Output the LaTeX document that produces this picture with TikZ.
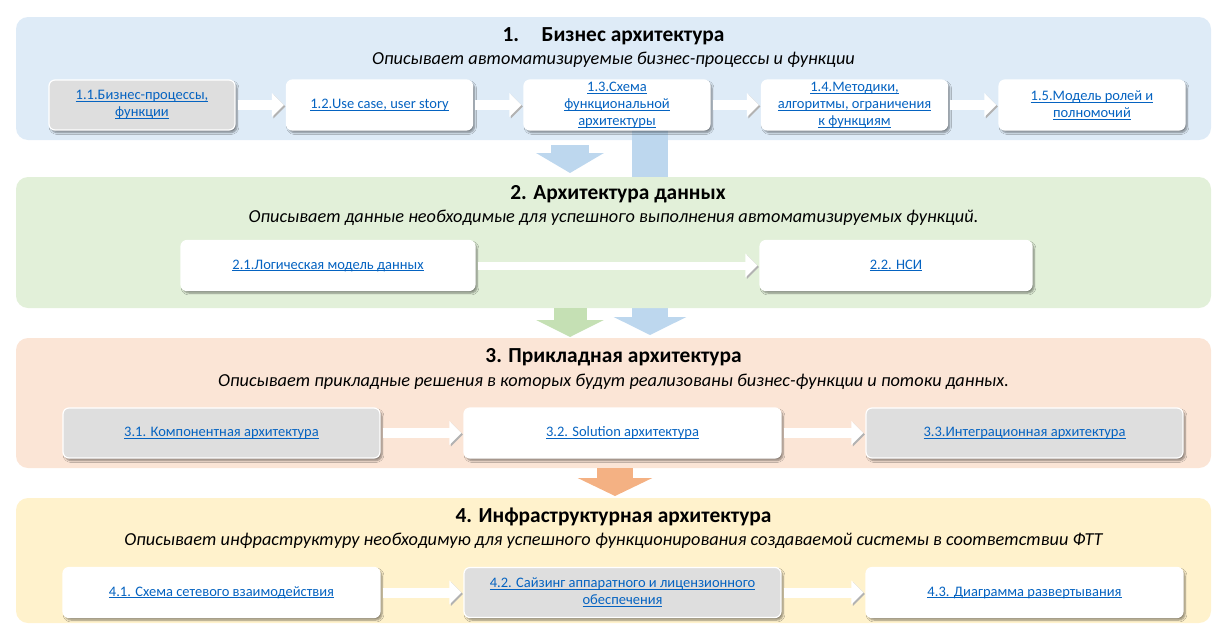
\documentclass[tikz,border=0pt]{standalone}
\usepackage{fontspec}
\setmainfont{Carlito}
\usepackage{xcolor}
\usetikzlibrary{arrows.meta,shadows.blur,positioning}

\definecolor{bandblue}{HTML}{DEEBF7}
\definecolor{bandgreen}{HTML}{E2F0D9}
\definecolor{bandpeach}{HTML}{FBE5D6}
\definecolor{bandyellow}{HTML}{FFF2CC}
\definecolor{arrblue}{HTML}{BDD7EE}
\definecolor{arrgreen}{HTML}{C5E0B4}
\definecolor{arrorange}{HTML}{F4B183}
\definecolor{cardgrey}{HTML}{DEDEDE}
\definecolor{linkblue}{HTML}{0563C1}

\newsavebox{\lnkbox}
\newcommand{\lnk}[1]{\sbox{\lnkbox}{#1}\rlap{\rule[-2pt]{\wd\lnkbox}{0.8pt}}\usebox{\lnkbox}}

\tikzset{
  band/.style={rounded corners=12pt},
  card/.style={draw=white, line width=1.2pt, fill=white, rounded corners=6pt,
    minimum height=50pt, align=center, text=linkblue, inner xsep=2pt, inner ysep=0pt,
    font=\fontsize{14.5}{17}\selectfont,
    blur shadow={shadow xshift=2pt, shadow yshift=-2.5pt, shadow blur steps=6, shadow opacity=45}},
  greycard/.style={card, fill=cardgrey},
  title/.style={font=\bfseries\fontsize{21.4}{25}\selectfont},
  subtitle/.style={font=\itshape\fontsize{18.3}{22}\selectfont},
  flow/.style={draw=white, line width=10pt, shorten <=2pt, shorten >=2pt,
    -{Triangle[length=12pt,width=23pt]},
    preaction={draw=black!30, transform canvas={xshift=1.5pt,yshift=-1.5pt}}},
  downflow/.style={draw=#1, -{Triangle[length=18pt,width=72pt]}}
}

\begin{document}
\begin{tikzpicture}[x=1pt,y=-1pt]
    \useasboundingbox (0,0) rectangle (1223,635);

    % level 1 background and the long arrow down to level 3
    \fill[band, bandblue] (16,17) rectangle (1211,140);
    \coordinate (longtop) at (650,128);
    \coordinate (longtip) at (650,335);
    \draw[downflow=arrblue, line width=36pt] (longtop) -- (longtip);

    % other level backgrounds
    \fill[band, bandgreen] (16,177) rectangle (1211,308);
    \fill[band, bandpeach] (16,338) rectangle (1211,468);
    \fill[band, bandyellow] (16,498) rectangle (1211,623);

    % arrows between levels
    \coordinate (d1top) at (570,145);
    \coordinate (d1tip) at (570,173);
    \draw[downflow=arrblue, line width=38pt, -{Triangle[length=20pt,width=67pt]}] (d1top) -- (d1tip);
    \coordinate (d2top) at (570,308);
    \coordinate (d2tip) at (570,337);
    \draw[downflow=arrgreen, line width=33pt, -{Triangle[length=17pt,width=67pt]}] (d2top) -- (d2tip);
    \coordinate (d3top) at (615,468);
    \coordinate (d3tip) at (615,496);
    \draw[downflow=arrorange, line width=36pt, -{Triangle[length=18pt,width=74pt]}] (d3top) -- (d3tip);

    % 1. business
    \node[title] (t1) at (613.5,36) {1.\hspace{1.05em}Бизнес архитектура};
    \node[subtitle] (s1) at (613.5,60) {Описывает автоматизируемые бизнес-процессы и функции};
    \node[greycard, minimum width=186pt] (b11) at (142,105) {\lnk{1.1.Бизнес-процессы,}\\\lnk{функции}};
    \node[card, minimum width=186pt] (b12) at (379.5,105) {\lnk{1.2.Use case, user story}};
    \node[card, minimum width=186pt] (b13) at (617,105) {\lnk{1.3.Схема}\\\lnk{функциональной}\\\lnk{архитектуры}};
    \node[card, minimum width=186pt] (b14) at (854.5,105) {\lnk{1.4.Методики,}\\\lnk{алгоритмы, ограничения}\\\lnk{к функциям}};
    \node[card, minimum width=186pt] (b15) at (1092,105) {\lnk{1.5.Модель ролей и}\\\lnk{полномочий}};
    \draw[flow] (b11) -- (b12);
    \draw[flow] (b12) -- (b13);
    \draw[flow] (b13) -- (b14);
    \draw[flow] (b14) -- (b15);

    % 2. data
    \node[title] (t2) at (618,194) {2. Архитектура данных};
    \node[subtitle] (s2) at (613.5,218) {Описывает данные необходимые для успешного выполнения автоматизируемых функций.};
    \node[card, minimum width=294pt] (b21) at (328,265.5) {\lnk{2.1.Логическая модель данных}};
    \node[card, minimum width=272pt] (b22) at (896,265.5) {\lnk{2.2. НСИ}};
    \draw[flow, line width=8pt] (b21) -- (b22);

    % 3. application
    \node[title] (t3) at (613.5,357) {3. Прикладная архитектура};
    \node[subtitle] (s3) at (613.5,382) {Описывает прикладные решения в которых будут реализованы бизнес-функции и потоки данных.};
    \node[greycard, minimum width=317pt] (b31) at (221.5,433) {\lnk{3.1. Компонентная архитектура}};
    \node[card, minimum width=317pt] (b32) at (622.5,433) {\lnk{3.2. Solution архитектура}};
    \node[greycard, minimum width=317pt] (b33) at (1024.5,433) {\lnk{3.3.Интеграционная архитектура}};
    \draw[flow] (b31) -- (b32);
    \draw[flow] (b32) -- (b33);

    % 4. infrastructure
    \node[title] (t4) at (613.5,517) {4. Инфраструктурная архитектура};
    \node[subtitle] (s4) at (613.5,541) {Описывает инфраструктуру необходимую для успешного функционирования создаваемой системы в соответствии ФТТ};
    \node[card, minimum width=317pt] (b41) at (221.5,592.5) {\lnk{4.1. Схема сетевого взаимодействия}};
    \node[greycard, minimum width=317pt] (b42) at (622.5,592.5) {\lnk{4.2. Сайзинг аппаратного и лицензионного}\\\lnk{обеспечения}};
    \node[card, minimum width=317pt] (b43) at (1024.5,592.5) {\lnk{4.3. Диаграмма развертывания}};
    \draw[flow] (b41) -- (b42);
    \draw[flow] (b42) -- (b43);
\end{tikzpicture}
\end{document}
